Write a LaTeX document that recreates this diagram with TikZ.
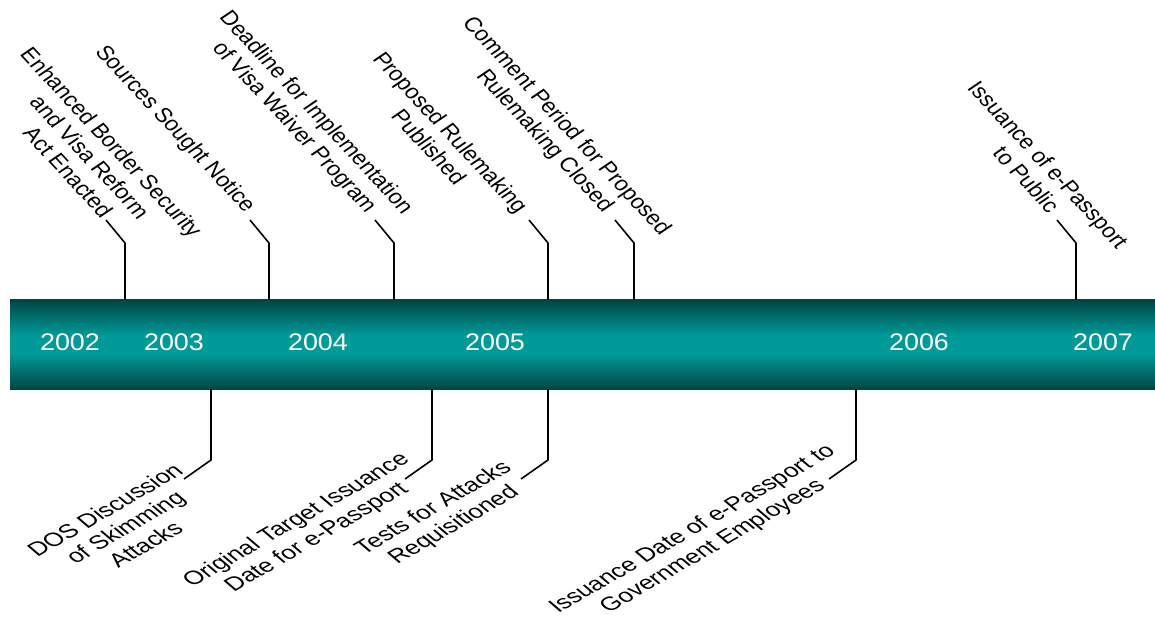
\documentclass[tikz,border=0pt]{standalone}
\usepackage{fontspec}
\setmainfont{Liberation Sans}
\definecolor{barDark}{HTML}{004645}
\definecolor{barMid}{HTML}{007473}
\definecolor{barLight}{HTML}{009A98}
\definecolor{barEdge}{HTML}{333333}
\pgfdeclareverticalshading{barshade}{100bp}{color(0bp)=(barDark); color(25bp)=(barDark); color(36bp)=(barMid); color(45bp)=(barLight); color(55bp)=(barLight); color(64bp)=(barMid); color(75bp)=(barDark); color(100bp)=(barDark)}
\begin{document}
\begin{tikzpicture}[x=1pt,y=-1pt,
  toplabel/.style={font=\fontsize{19.5}{22.5}\selectfont, align=center, inner sep=0pt,
    cm={0.754,-0.809,0.966,0.656,(0pt,0pt)}},
  botlabel/.style={font=\fontsize{19.5}{22.5}\selectfont, align=center, inner sep=0pt,
    cm={1.039,0.600,-0.900,0.766,(0pt,0pt)}},
  year/.style={text=white, font=\fontsize{24}{24}\selectfont, inner sep=0pt, xscale=1.12},
  conn/.style={line width=1.6pt, black},
  barbox/.style={shading=barshade, minimum width=1145pt, minimum height=89pt, inner sep=0pt}]
\useasboundingbox (0,0) rectangle (1155,621);
\fill[white] (0,0) rectangle (1155,621);
% bar
\node[barbox] (bar) at (582.5,344.5) {};
\draw[barEdge, line width=1pt] (bar.north west) -- (bar.north east);
\draw[barEdge, line width=1pt] (bar.south west) -- (bar.south east);
% years
\node[year] (y2002) at (70,342) {2002};
\node[year] (y2003) at (174,342) {2003};
\node[year] (y2004) at (318,342) {2004};
\node[year] (y2005) at (495,342) {2005};
\node[year] (y2006) at (919,342) {2006};
\node[year] (y2007) at (1103,342) {2007};
% top labels
\node[toplabel] (L1) at (90,157) {Enhanced Border Security\\and Visa Reform\\Act Enacted};
\node[toplabel] (L2) at (174.5,129.5) {Sources Sought Notice};
\node[toplabel] (L3) at (304.5,120.5) {Deadline for Implementation\\of Visa Waiver Program};
\node[toplabel] (L4) at (440,139.5) {Proposed Rulemaking\\Published};
\node[toplabel] (L5) at (555,134) {Comment Period for Proposed\\Rulemaking Closed};
\node[toplabel] (L6) at (1037.5,172) {Issuance of e-Passport\\to Public};
% bottom labels
\node[botlabel] (B1) at (125,527) {DOS Discussion\\of Skimming\\Attacks};
\node[botlabel] (B2) at (307,529) {Original Target Issuance\\Date for e-Passport};
\node[botlabel] (B3) at (444,517) {Tests for Attacks\\Requisitioned};
\node[botlabel] (B4) at (703,538) {Issuance Date of e-Passport to\\Government Employees};
% top connectors
\foreach \i/\x in {1/125,2/269,3/394,4/548,5/634,6/1076}{
  \coordinate (tk\i) at (\x,243);
  \coordinate (te\i) at ({\x-19},220);
  \draw[conn] (bar.north -| tk\i) -- (tk\i) -- (te\i);
}
% bottom connectors
\foreach \i/\x in {1/211,2/432,3/548,4/856}{
  \coordinate (bk\i) at (\x,460);
  \coordinate (be\i) at ({\x-27},479);
  \draw[conn] (bar.south -| bk\i) -- (bk\i) -- (be\i);
}
\end{tikzpicture}
\end{document}
